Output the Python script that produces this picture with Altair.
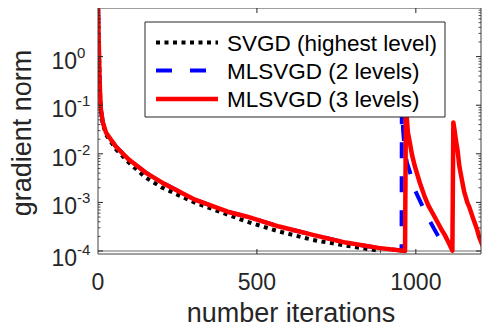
import altair as alt
import pandas as pd

# ---------------- data ----------------
svgd_iter = [0, 2, 4, 6, 9, 15, 25, 56, 97, 150, 202, 305, 408, 467, 570, 676, 779, 882, 890]
svgd_grad = [10.0, 2.3, 0.65, 0.2, 0.076, 0.042, 0.025, 0.0125, 0.0066, 0.00324, 0.00201, 0.000986,
             0.00056, 0.000404, 0.000252, 0.000169, 0.000129, 0.000102, 0.0001]

ml2_iter = [0, 2, 4, 6, 9, 15, 25, 56, 97, 150, 202, 305, 408, 467, 570, 676, 779, 882,
            955, 956, 960, 965, 972, 981, 997, 1022, 1037, 1069, 1097]
ml2_grad = [10.0, 2.5, 0.7, 0.21, 0.082, 0.045, 0.0275, 0.01416, 0.00762, 0.00411, 0.00255, 0.001137,
            0.000643, 0.000514, 0.000319, 0.000215, 0.000149, 0.000116,
            0.000102, 0.2, 0.03, 0.012, 0.0065, 0.0043, 0.0018, 0.00081, 0.0005, 0.00021, 0.0001]

ml3_iter = [0, 2, 4, 6, 9, 15, 25, 56, 97, 150, 202, 305, 408, 467, 570, 676, 779, 882,
            966, 969, 972, 975, 981, 988, 997, 1012, 1028, 1040, 1059, 1081, 1090, 1103, 1115,
            1118, 1122, 1126, 1131, 1137, 1143, 1152, 1162, 1168, 1180, 1193, 1199, 1212]
ml3_grad = [10.0, 2.5, 0.7, 0.21, 0.082, 0.045, 0.0275, 0.01416, 0.00762, 0.00411, 0.00255, 0.001137,
            0.000643, 0.000514, 0.000319, 0.000215, 0.000149, 0.000116,
            0.0001, 0.15, 0.05, 0.0275, 0.0171, 0.0095, 0.0055, 0.0026, 0.0013, 0.00085, 0.000507,
            0.000273, 0.00022, 0.00015, 0.000102,
            0.0443, 0.03, 0.019, 0.0123, 0.0055, 0.0034, 0.00166, 0.00099, 0.00081, 0.00047,
            0.000273, 0.000195, 0.00012]

series_names = ["SVGD (highest level)", "MLSVGD (2 levels)", "MLSVGD (3 levels)"]
series_colors = ["#000000", "#0000ff", "#ff0000"]

x_ticks = [0, 500, 1000]
y_ticks = [1, 0.1, 0.01, 0.001, 0.0001]
y_exponents = ["0", "-1", "-2", "-3", "-4"]
y_minor = [m * t for t in [1, 0.1, 0.01, 0.001, 0.0001] for m in [2, 3, 4, 5, 6, 7, 8, 9]]
tol_level = [0.0001]
x_title = "number iterations"
y_title = "gradient norm"

# ---------------- layout / style ----------------
W, H = 383, 246
LEFT = 90
FONT = "Liberation Sans"
AX = "#262626"

xs = alt.Scale(domain=[0, 1205], nice=False, zero=False)
ys = alt.Scale(type="log", domain=[8.68e-5, 10], nice=False)


def series_df(it, g):
    return pd.DataFrame({"iter": it, "grad": g, "idx": list(range(len(it)))})


one = pd.DataFrame({"k": [0]})

tol = alt.Chart(pd.DataFrame({"v": tol_level})).mark_rule(color="#6a6a6a", strokeWidth=1).encode(
    y=alt.Y("v:Q", scale=ys, axis=None))

l_svgd = alt.Chart(series_df(svgd_iter, svgd_grad)).mark_line(
    color=series_colors[0], strokeWidth=4, strokeDash=[4, 4.5], strokeCap="butt",
    strokeJoin="round", clip=True
).encode(x=alt.X("iter:Q", scale=xs, axis=None), y=alt.Y("grad:Q", scale=ys, axis=None), order="idx:Q")

l_ml2 = alt.Chart(series_df(ml2_iter, ml2_grad)).mark_line(
    color=series_colors[1], strokeWidth=4, strokeDash=[16, 18], strokeCap="butt",
    strokeJoin="round", clip=True
).encode(x=alt.X("iter:Q", scale=xs, axis=None), y=alt.Y("grad:Q", scale=ys, axis=None), order="idx:Q")

l_ml3 = alt.Chart(series_df(ml3_iter, ml3_grad)).mark_line(
    color=series_colors[2], strokeWidth=4.5, strokeJoin="round", clip=True
).encode(x=alt.X("iter:Q", scale=xs, axis=None), y=alt.Y("grad:Q", scale=ys, axis=None), order="idx:Q")

# axes box
frame = alt.Chart(one).mark_rect(fillOpacity=0, stroke="#404040", strokeWidth=1).encode(
    x=alt.value(0), x2=alt.value(W), y=alt.value(0), y2=alt.value(H))

# inward ticks (MATLAB style)
ymaj = pd.DataFrame({"v": y_ticks})
ymin = pd.DataFrame({"v": y_minor})
xmaj = pd.DataFrame({"v": x_ticks[1:]})
tick_layers = [
    alt.Chart(ymaj).mark_rule(color=AX, strokeWidth=1).encode(
        y=alt.Y("v:Q", scale=ys, axis=None), x=alt.value(0), x2=alt.value(5)),
    alt.Chart(ymaj).mark_rule(color=AX, strokeWidth=1).encode(
        y=alt.Y("v:Q", scale=ys, axis=None), x=alt.value(W - 5), x2=alt.value(W)),
    alt.Chart(ymin).mark_rule(color=AX, strokeWidth=0.8).encode(
        y=alt.Y("v:Q", scale=ys, axis=None), x=alt.value(0), x2=alt.value(2.5)),
    alt.Chart(ymin).mark_rule(color=AX, strokeWidth=0.8).encode(
        y=alt.Y("v:Q", scale=ys, axis=None), x=alt.value(W - 2.5), x2=alt.value(W)),
    alt.Chart(xmaj).mark_rule(color=AX, strokeWidth=1).encode(
        x=alt.X("v:Q", scale=xs, axis=None), y=alt.value(H - 5), y2=alt.value(H)),
    alt.Chart(xmaj).mark_rule(color=AX, strokeWidth=1).encode(
        x=alt.X("v:Q", scale=xs, axis=None), y=alt.value(0), y2=alt.value(5)),
]

# y tick labels "10" with superscript exponents
lab_df = pd.DataFrame({"v": y_ticks, "e": y_exponents, "b": ["10"] * len(y_ticks)})
label_layers = []
for filt, dy_base, dy_exp in [("datum.v > 0.0005", 12, 1), ("datum.v < 0.0005", 15, 4)]:
    label_layers.append(alt.Chart(lab_df).transform_filter(filt).mark_text(
        font=FONT, fontSize=23, color=AX, align="right", baseline="alphabetic", dy=dy_base
    ).encode(y=alt.Y("v:Q", scale=ys, axis=None), x=alt.value(-21), text="b:N"))
    label_layers.append(alt.Chart(lab_df).transform_filter(filt).mark_text(
        font=FONT, fontSize=15, color=AX, align="left", baseline="alphabetic", dy=dy_exp
    ).encode(y=alt.Y("v:Q", scale=ys, axis=None), x=alt.value(-21), text="e:N"))

# x tick labels and axis titles
label_layers.append(alt.Chart(pd.DataFrame({"v": x_ticks})).mark_text(
    font=FONT, fontSize=23, color=AX, align="center", baseline="alphabetic"
).encode(x=alt.X("v:Q", scale=xs, axis=None), y=alt.value(H + 36), text=alt.Text("v:Q", format="d")))
label_layers.append(alt.Chart(one).mark_text(
    font=FONT, fontSize=27, color=AX, align="center", baseline="alphabetic"
).encode(x=alt.value(193), y=alt.value(H + 68), text=alt.value(x_title)))
label_layers.append(alt.Chart(one).mark_text(
    font=FONT, fontSize=27, color=AX, align="center", baseline="middle", angle=270
).encode(x=alt.value(-75), y=alt.value(125), text=alt.value(y_title)))

# legend
leg_box = alt.Chart(one).mark_rect(fill="white", stroke=AX, strokeWidth=1).encode(
    x=alt.value(47), x2=alt.value(347), y=alt.value(14), y2=alt.value(109))
leg_rows = [34.5, 62.5, 91]
leg_dash = [[4, 4.5], [16, 18], None]
leg_width = [4, 4, 4.5]
leg_layers = []
for i in range(3):
    kw = dict(color=series_colors[i], strokeWidth=leg_width[i], strokeCap="butt")
    if leg_dash[i] is not None:
        kw["strokeDash"] = leg_dash[i]
    leg_layers.append(alt.Chart(one).mark_rule(**kw).encode(
        x=alt.value(58), x2=alt.value(120), y=alt.value(leg_rows[i])))
    leg_layers.append(alt.Chart(one).mark_text(
        font=FONT, fontSize=22.5, color="#000000", align="left", baseline="alphabetic").encode(
        x=alt.value(129), y=alt.value(leg_rows[i] + 8), text=alt.value(series_names[i])))

chart = alt.layer(
    tol, l_svgd, l_ml2, l_ml3, frame, *tick_layers, *label_layers, leg_box, *leg_layers
).properties(
    width=W, height=H, autosize="none",
    padding={"left": LEFT, "top": 0, "right": 1, "bottom": 73},
    background="white",
).configure(font=FONT).configure_view(strokeWidth=0)

chart.save("out.html", embed_options={"renderer": "svg", "actions": False})
